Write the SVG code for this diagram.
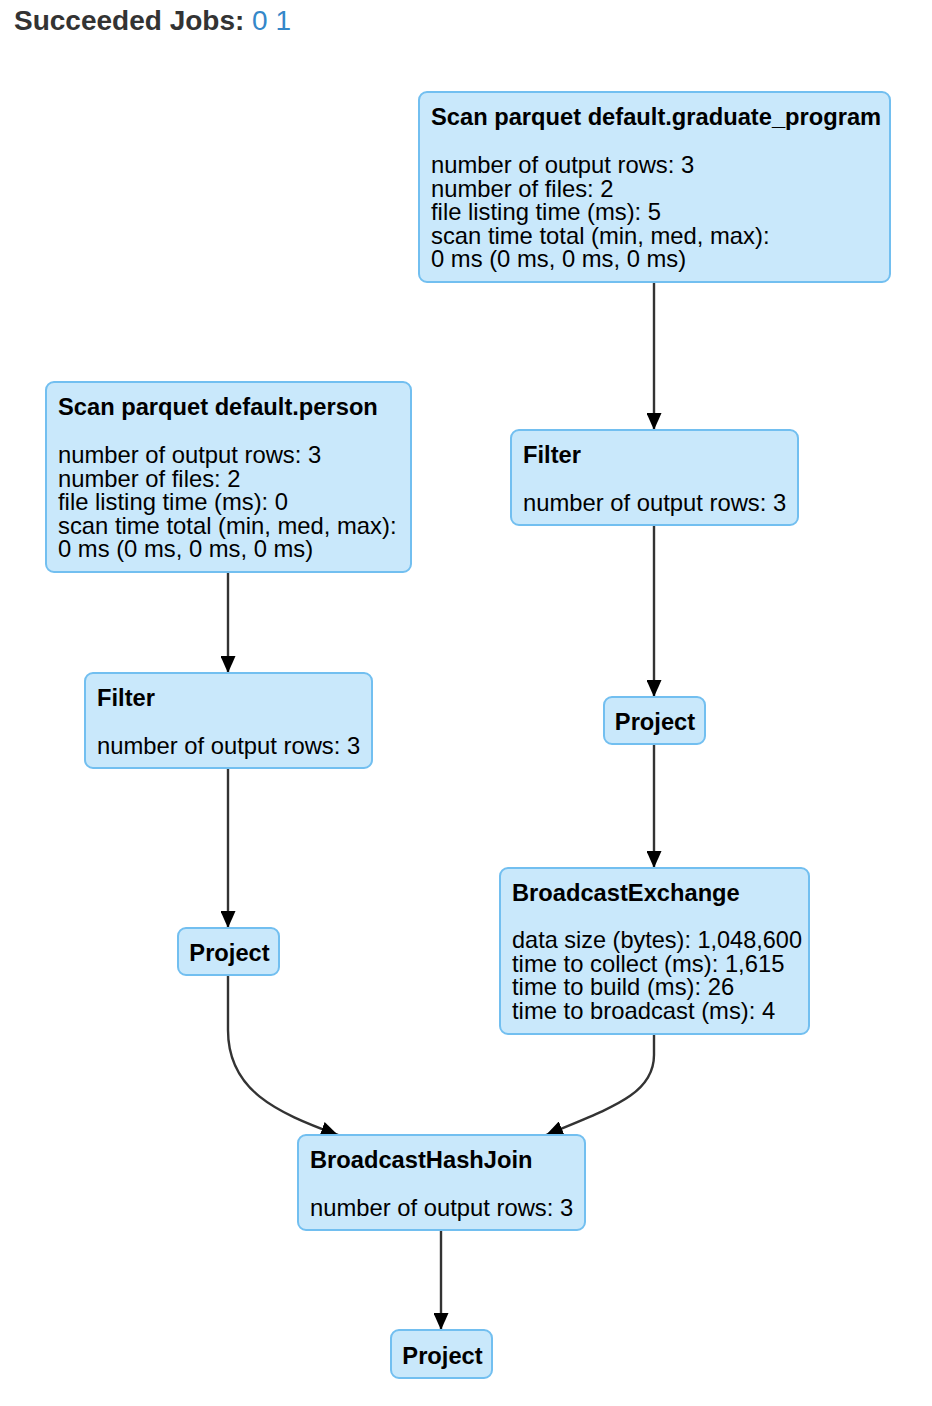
<svg xmlns="http://www.w3.org/2000/svg" width="932" height="1406" viewBox="0 0 932 1406">
<style>
.box{fill:#c9e8fb;stroke:#72bff0;stroke-width:2}
.t{font-family:"Liberation Sans",Arial,sans-serif;font-size:23.8px;fill:#000}
.b{font-weight:bold;font-size:23.7px}
.e{fill:none;stroke:#333;stroke-width:2.4}
</style>
<defs>
<marker id="arr" viewBox="0 0 10 10" refX="10" refY="5" markerUnits="userSpaceOnUse" markerWidth="17" markerHeight="15" orient="auto" preserveAspectRatio="none">
<path d="M0,0 L10,5 L0,10 z" fill="#000"/>
</marker>
</defs>
<rect width="932" height="1406" fill="#fff"/>
<text x="14" y="30" font-family="Liberation Sans,Arial,sans-serif" font-size="28px" font-weight="bold" fill="#333">Succeeded Jobs: <tspan font-weight="normal" fill="#3487c9">0 1</tspan></text>

<g id="edges">
<path class="e" d="M654,282 L654,430" marker-end="url(#arr)"/>
<path class="e" d="M654,525 L654,697" marker-end="url(#arr)"/>
<path class="e" d="M654,744 L654,868" marker-end="url(#arr)"/>
<path class="e" d="M228,572 L228,673" marker-end="url(#arr)"/>
<path class="e" d="M228,768 L228,928" marker-end="url(#arr)"/>
<path class="e" d="M228,975 L228,1030 C228,1090 275,1112 338,1135" marker-end="url(#arr)"/>
<path class="e" d="M654,1034 L654,1055 C654,1095 610,1108 546,1135" marker-end="url(#arr)"/>
<path class="e" d="M441,1230 L441,1330" marker-end="url(#arr)"/>
</g>

<g id="scan-graduate">
<rect class="box" x="419" y="92" width="471" height="190" rx="8"/>
<text class="t b" x="431" y="125">Scan parquet default.graduate_program</text>
<text class="t" x="431" y="173">number of output rows: 3</text>
<text class="t" x="431" y="196.5">number of files: 2</text>
<text class="t" x="431" y="220">file listing time (ms): 5</text>
<text class="t" x="431" y="243.5">scan time total (min, med, max):</text>
<text class="t" x="431" y="267">0 ms (0 ms, 0 ms, 0 ms)</text>
</g>

<g id="scan-person">
<rect class="box" x="46" y="382" width="365" height="190" rx="8"/>
<text class="t b" x="58" y="415">Scan parquet default.person</text>
<text class="t" x="58" y="463">number of output rows: 3</text>
<text class="t" x="58" y="486.5">number of files: 2</text>
<text class="t" x="58" y="510">file listing time (ms): 0</text>
<text class="t" x="58" y="533.5">scan time total (min, med, max):</text>
<text class="t" x="58" y="557">0 ms (0 ms, 0 ms, 0 ms)</text>
</g>

<g id="filter-right">
<rect class="box" x="511" y="430" width="287" height="95" rx="8"/>
<text class="t b" x="523" y="463">Filter</text>
<text class="t" x="523" y="511">number of output rows: 3</text>
</g>

<g id="filter-left">
<rect class="box" x="85" y="673" width="287" height="95" rx="8"/>
<text class="t b" x="97" y="706">Filter</text>
<text class="t" x="97" y="754">number of output rows: 3</text>
</g>

<g id="project-right">
<rect class="box" x="604" y="697" width="101" height="47" rx="8"/>
<text class="t b" x="655" y="730" text-anchor="middle">Project</text>
</g>

<g id="project-left">
<rect class="box" x="178" y="928" width="101" height="47" rx="8"/>
<text class="t b" x="229.5" y="961" text-anchor="middle">Project</text>
</g>

<g id="broadcast-exchange">
<rect class="box" x="500" y="868" width="309" height="166" rx="8"/>
<text class="t b" x="512" y="901">BroadcastExchange</text>
<text class="t" x="512" y="948" textLength="290" lengthAdjust="spacingAndGlyphs">data size (bytes): 1,048,600</text>
<text class="t" x="512" y="971.5">time to collect (ms): 1,615</text>
<text class="t" x="512" y="995">time to build (ms): 26</text>
<text class="t" x="512" y="1018.5">time to broadcast (ms): 4</text>
</g>

<g id="broadcast-hash-join">
<rect class="box" x="298" y="1135" width="287" height="95" rx="8"/>
<text class="t b" x="310" y="1168">BroadcastHashJoin</text>
<text class="t" x="310" y="1216">number of output rows: 3</text>
</g>

<g id="project-bottom">
<rect class="box" x="391" y="1330" width="101" height="48" rx="8"/>
<text class="t b" x="442.5" y="1364" text-anchor="middle">Project</text>
</g>
</svg>
